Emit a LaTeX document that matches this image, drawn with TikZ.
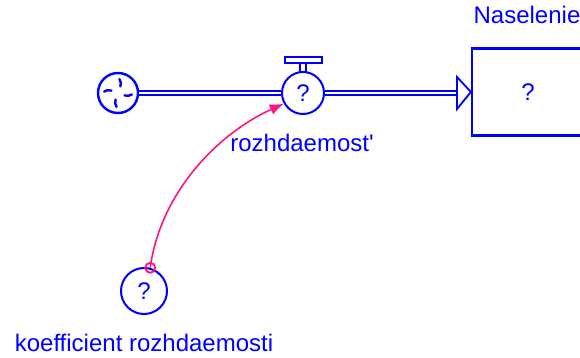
\documentclass[tikz,border=0pt]{standalone}
\usepackage{fontspec}
\setmainfont{Liberation Sans}
\usetikzlibrary{arrows.meta}
\definecolor{simblue}{RGB}{0,0,255}
\definecolor{linkpink}{RGB}{255,20,130}

\begin{document}
\begin{tikzpicture}[x=1pt,y=-1pt,
  font=\fontsize{24}{28}\selectfont,
  simline/.style={draw=simblue,line width=2pt},
  pipe/.style={draw=simblue,line width=2pt,double=white,double distance=2.6pt},
  aux/.style={circle,simline,fill=white,minimum size=44pt,inner sep=0pt,text=simblue},
  lbl/.style={text=simblue,inner sep=0pt,anchor=base},
  link/.style={draw=linkpink,line width=1.6pt,-{Latex[length=14pt,width=11pt]}}]
\useasboundingbox (0,0) rectangle (580,358);

% source cloud
\node[circle,simline,line width=2.4pt,minimum size=40pt,inner sep=0pt] (cloud) at (118,93) {};
\foreach \a in {70,160,250,340}
  \draw[simblue,line width=2.4pt,line cap=round]
    (cloud.center) ++(\a:7pt) arc[start angle=\a-90, end angle=\a-35, radius=8pt];

% stock
\begin{scope}
  \clip (0,0) rectangle (580,358);
  \node[rectangle,draw=simblue,line width=2.2pt,minimum width=112pt,
        minimum height=87pt,text=simblue] (stock) at (528,92) {?};
\end{scope}
\node[lbl] (stocklbl) at (527,24) {Naselenie};

% flow valve with handle
\node[aux,minimum size=42pt] (valve) at (303,93) {?};
\draw[simline,line width=1.8pt,fill=white] (300,63) rectangle (306,72);
\draw[simline,line width=1.8pt,fill=white] (285,57) rectangle (322,63);
\node[lbl] (valvelbl) at (302,152) {rozhdaemost\textquotesingle};

% pipe from cloud through valve into the stock
\coordinate (pipeend) at (457,93);
\draw[pipe] (cloud.east) -- (valve.west);
\draw[pipe] (valve.east) -- (pipeend);
\draw[simline,line width=1.8pt,fill=white,line join=miter]
  (pipeend) ++(0,-16) -- (stock.west) -- (457,109) -- cycle;

% converter
\node[aux,minimum size=46pt] (conv) at (144,291) {?};
\node[lbl] (convlbl) at (144,351) {koefficient rozhdaemosti};

% information link
\node[circle,draw=linkpink,line width=1.8pt,minimum size=10pt,inner sep=0pt] (linkstart) at (conv.75) {};
\draw[link] (linkstart.center) .. controls (160,195) and (215,135) .. (valve.209);
\end{tikzpicture}
\end{document}
